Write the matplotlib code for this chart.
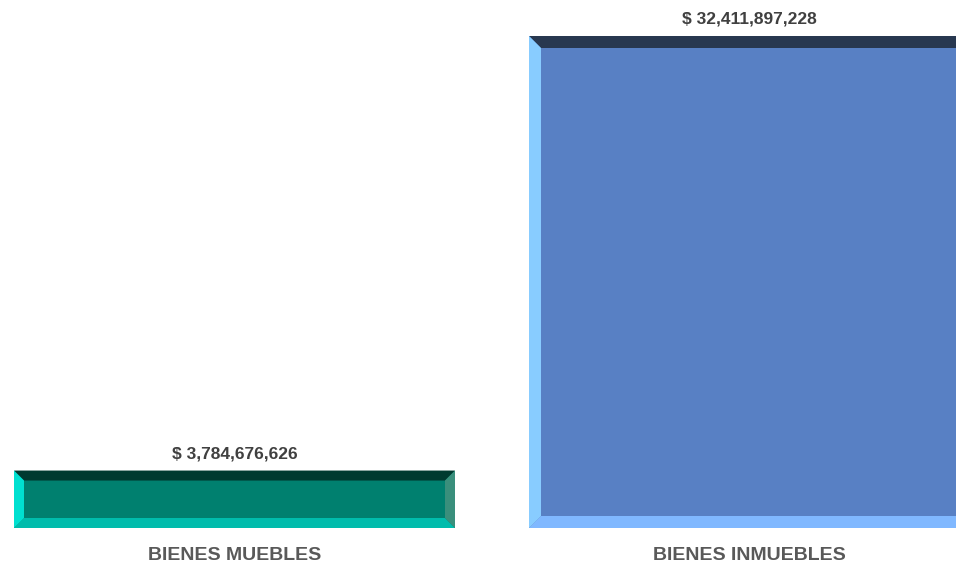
import matplotlib.pyplot as plt
from matplotlib.patches import Polygon

categories = ["BIENES MUEBLES", "BIENES INMUEBLES"]
values = [3784676626, 32411897228]

face_colors = ["#00806f", "#5880c4"]
top_colors = ["#003a30", "#283850"]
bottom_colors = ["#00bcac", "#80b8ff"]
left_colors = ["#00e0d0", "#88ccff"]
right_colors = ["#3a8f7c", "#4a70b0"]

W, H = 956, 567
fig = plt.figure(figsize=(W / 100, H / 100), dpi=100)
ax_h = 528
ax = fig.add_axes([0, (H - ax_h) / H, 1, ax_h / H])

step = 515
x = [0, 1]
bar_w = 441 / step
ymax = values[1] * ax_h / 492
ax.set_xlim(-234.5 / step, 1 + (W - 749.5) / step)
ax.set_ylim(0, ymax)
ax.axis("off")

bars = ax.bar(x, values, width=bar_w, color=face_colors, linewidth=0, zorder=1)

# bevel edges, size in pixels converted to data units
px_x = 1 / step
px_y = ymax / ax_h
for i, b in enumerate(bars):
    bevel = 10 if i == 0 else 12
    dx, dy = bevel * px_x, bevel * px_y
    x0, x1 = b.get_x(), b.get_x() + b.get_width()
    y0, y1 = 0, b.get_height()
    pieces = [
        ([(x0, y1), (x1, y1), (x1 - dx, y1 - dy), (x0 + dx, y1 - dy)], top_colors[i]),
        ([(x0, y0), (x1, y0), (x1 - dx, y0 + dy), (x0 + dx, y0 + dy)], bottom_colors[i]),
        ([(x0, y0), (x0, y1), (x0 + dx, y1 - dy), (x0 + dx, y0 + dy)], left_colors[i]),
        ([(x1, y0), (x1, y1), (x1 - dx, y1 - dy), (x1 - dx, y0 + dy)], right_colors[i]),
    ]
    for pts, c in pieces:
        ax.add_patch(Polygon(pts, closed=True, facecolor=c, edgecolor="none", zorder=2))

fam = ["Liberation Sans Narrow", "Liberation Sans", "DejaVu Sans"]
for xi, v in zip(x, values):
    ax.annotate(f"$ {v:,.0f}", (xi, v), xytext=(0, 9), textcoords="offset pixels",
                ha="center", va="bottom", fontsize=12.5, fontweight="bold",
                color="#404040", family=fam)

for xi, cat in zip(x, categories):
    ax.annotate(cat, (xi, 0), xytext=(0, -19), textcoords="offset pixels",
                ha="center", va="top", fontsize=14, fontweight="bold",
                color="#595959", family=fam)

fig.savefig("out.png", dpi=100)
